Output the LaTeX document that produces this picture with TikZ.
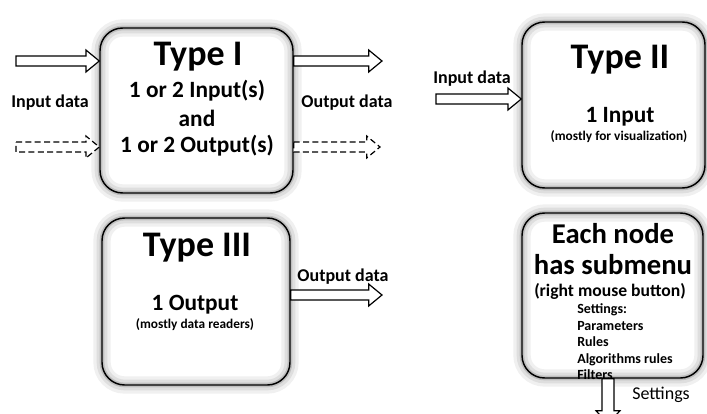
\documentclass[tikz,border=0pt]{standalone}
\usepackage{fontspec}
\setmainfont{Carlito}
\usetikzlibrary{calc,positioning}

\newcommand\arrshaft{3.75pt}
\newcommand\arrhead{8.25pt}
\newcommand\arrlen{10pt}

\tikzset{
  databox/.style={draw=black, line width=1.1pt, rounded corners=17pt,
    preaction={draw=black!6, line width=13pt},
    preaction={draw=black!13, line width=8pt},
    preaction={draw=black!25, line width=3.5pt}},
  arrow shaft/.store in=\arrshaft,
  arrow head/.store in=\arrhead,
  bigarrow/.style={draw=black, line width=0.9pt, fill=white, line join=miter,
    to path={($(\tikztotarget)!\arrlen!(\tikztostart)$) coordinate (ah)
      ($(\tikztostart)!\arrshaft!90:(\tikztotarget)$)
      -- ($(ah)!\arrshaft!-90:(\tikztostart)$) -- ($(ah)!\arrhead!-90:(\tikztostart)$)
      -- (\tikztotarget)
      -- ($(ah)!\arrhead!90:(\tikztostart)$) -- ($(ah)!\arrshaft!90:(\tikztostart)$)
      -- ($(\tikztostart)!\arrshaft!-90:(\tikztotarget)$) -- cycle}},
  dasharrow/.style={bigarrow, dash pattern=on 4.5pt off 2.5pt},
  title/.style={font=\bfseries\fontsize{27}{30}\selectfont},
  subtitle/.style={font=\bfseries\fontsize{21.5}{24}\selectfont},
  bigline/.style={font=\bfseries\fontsize{17.5}{20}\selectfont},
  small/.style={font=\bfseries\fontsize{10}{12}\selectfont},
  lbl/.style={font=\bfseries\fontsize{13.5}{16}\selectfont}
}

\begin{document}
\begin{tikzpicture}[x=0.75pt,y=-0.75pt,every node/.style={inner sep=0pt}]
\useasboundingbox (0,0) rectangle (707,414);

% the four node types
\node[databox, minimum width=144.75pt, minimum height=123.75pt] (t1) at (196.5,110.5) {};
\node[databox, minimum width=137.25pt, minimum height=124.5pt]  (t2) at (613.5,105) {};
\node[databox, minimum width=141pt,    minimum height=125.25pt] (t3) at (196,301.5) {};
\node[databox, minimum width=135.75pt, minimum height=123.75pt] (t4) at (612.5,295.5) {};

% Type I
\node[title]   (t1name) at (198,57)  {Type I};
\node[bigline] (t1in)   at (197,91)  {1 or 2 Input(s)};
\node[bigline] (t1and)  at (197,118) {and};
\node[bigline] (t1out)  at (197,146) {1 or 2 Output(s)};

% Type II
\node[title]   (t2name) at (620,60)  {Type II};
\node[bigline] (t2in)   at (620,117) {1 Input};
\node[small]   (t2note) at (619,137) {(mostly for visualization)};

% Type III
\node[title]   (t3name) at (197,248) {Type III};
\node[bigline] (t3out)  at (195,305) {1 Output};
\node[small]   (t3note) at (195,325) {(mostly data readers)};

% submenu
\node[subtitle] (t4name) at (613,234) {Each node};
\node[subtitle] (t4sub)  at (613,265) {has submenu};
\node[font=\bfseries\fontsize{13.2}{16}\selectfont] (t4mouse) at (610,291) {(right mouse button)};
\node[font=\bfseries\fontsize{10.5}{12.4}\selectfont, align=left, anchor=west] (t4list) at (577,342)
  {Settings:\\Parameters\\Rules\\Algorithms rules\\Filters};

% arrows
\coordinate (in1)  at (16,61);
\coordinate (din1) at (16,147);
\coordinate (out1) at (382,61);
\coordinate (dout1) at (380,147);
\coordinate (in2)  at (436,99);
\coordinate (out3) at (382,295);
\coordinate (set4) at (608,424);

\draw[bigarrow]  (in1) to (t1.west |- in1);
\draw[dasharrow] (din1) to (t1.west |- din1);
\draw[bigarrow]  (t1.east |- out1) to (out1);
\draw[dasharrow] (t1.east |- dout1) to (dout1);
\draw[bigarrow]  (in2) to (t2.west |- in2);
\draw[bigarrow]  (t3.east |- out3) to (out3);
\draw[bigarrow, arrow shaft=4.5pt, arrow head=9pt] (t4.south -| set4) to (set4);

% labels
\node[lbl] (lin1)  at (50,103)  {Input data};
\node[lbl] (lout1) at (347,103) {Output data};
\node[lbl] (lin2)  at (472,79)  {Input data};
\node[lbl] (lout3) at (343,277) {Output data};
\node[font=\fontsize{13.5}{16}\selectfont, anchor=west] (lset) at (632,395) {Settings};
\end{tikzpicture}
\end{document}
